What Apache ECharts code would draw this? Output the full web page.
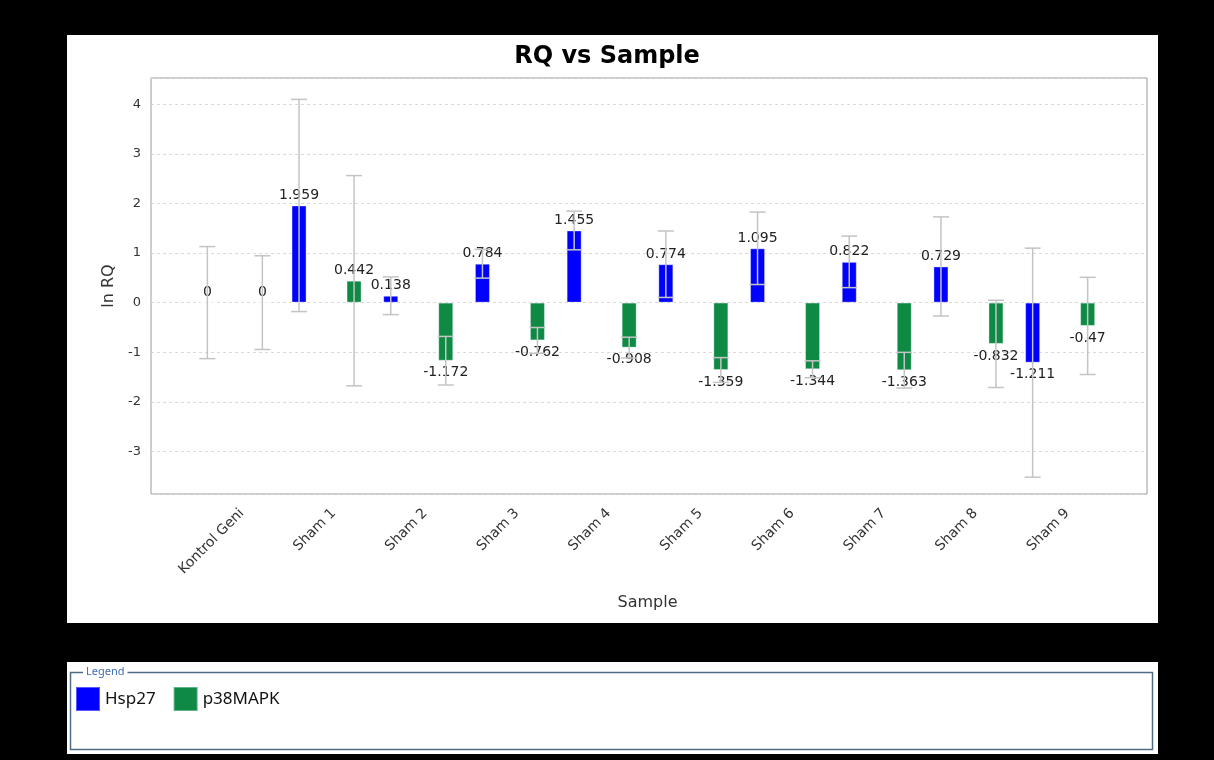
<!DOCTYPE html>
<html>
<head>
<meta charset="utf-8">
<title>RQ vs Sample</title>
<script src="https://cdn.jsdelivr.net/npm/echarts@6/dist/echarts.min.js"></script>
<style>
  html, body { margin: 0; padding: 0; background: #000; }
  #chart { width: 1214px; height: 760px; }
</style>
</head>
<body>
<div id="chart"></div>
<script>
// Samples along the category axis
const categories = ['Kontrol Geni', 'Sham 1', 'Sham 2', 'Sham 3', 'Sham 4',
                    'Sham 5', 'Sham 6', 'Sham 7', 'Sham 8', 'Sham 9'];

// ln RQ per sample for each gene
const hsp27   = [0, 1.959, 0.138, 0.784, 1.455, 0.774, 1.095, 0.822, 0.729, -1.211];
const p38mapk = [0, 0.442, -1.172, -0.762, -0.908, -1.359, -1.344, -1.363, -0.832, -0.47];

// Half-length of the error bar for each sample
const hsp27Err   = [1.13, 2.14, 0.38, 0.29, 0.39, 0.67, 0.73, 0.52, 1.00, 2.31];
const p38mapkErr = [0.945, 2.12, 0.49, 0.26, 0.21, 0.25, 0.17, 0.36, 0.88, 0.98];

// Value axis range
const yMin = -3.86;
const yMax = 4.53;

const BLUE = '#0000ff';
const GREEN = '#0f8a45';
const BAR_W = 15;
const BAR_GAP = 40;                     // px between the two bars of a sample
const HALF_STEP = (BAR_W + BAR_GAP) / 2; // centre offset of each bar from the band centre

const chart = echarts.init(document.getElementById('chart'), null, { renderer: 'canvas' });

function barData(values) {
  return values.map(v => ({
    value: v,
    label: { position: v < 0 ? 'bottom' : 'top', distance: v < 0 ? 5 : 3 }
  }));
}

function errorSeries(name, values, errs, offset) {
  return {
    type: 'custom',
    name: name,
    xAxisIndex: 1,
    yAxisIndex: 1,
    z: 3,
    silent: true,
    encode: { x: 0, y: 1 },
    data: values.map((v, i) => [i, v, errs[i]]),
    renderItem: function (params, api) {
      const i = api.value(0), v = api.value(1), e = api.value(2);
      const hi = api.coord([i, v + e]);
      const lo = api.coord([i, v - e]);
      const x = hi[0] + offset;
      const cap = 8;
      const style = { stroke: '#c4c4c4', lineWidth: 1.5 };
      return {
        type: 'group',
        children: [
          { type: 'line', shape: { x1: x, y1: hi[1], x2: x, y2: lo[1] }, style: style },
          { type: 'line', shape: { x1: x - cap, y1: hi[1], x2: x + cap, y2: hi[1] }, style: style },
          { type: 'line', shape: { x1: x - cap, y1: lo[1], x2: x + cap, y2: lo[1] }, style: style }
        ]
      };
    }
  };
}

const labelStyle = {
  show: true,
  fontFamily: 'DejaVu Sans',
  fontSize: 14,
  color: '#222',
  formatter: p => String(p.value)
};

const option = {
  backgroundColor: '#000',
  animation: false,
  textStyle: { fontFamily: 'DejaVu Sans' },
  title: {
    text: 'RQ vs Sample',
    left: 'center',
    top: 45,
    padding: [0, 0, 0, 21],
    textStyle: { fontFamily: 'DejaVu Sans', fontWeight: 'bold', fontSize: 24, color: '#000' }
  },
  legend: {
    data: ['Hsp27', 'p38MAPK'],
    left: 70,
    top: 681,
    icon: 'rect',
    itemWidth: 24,
    itemHeight: 24,
    itemGap: 17,
    textStyle: { fontFamily: 'Noto Sans', fontSize: 17, color: '#111' }
  },
  graphic: [
    // chart panel
    { type: 'rect', z: -10, shape: { x: 67, y: 35, width: 1091, height: 588 }, style: { fill: '#fff' } },
    // legend panel
    { type: 'rect', z: -10, shape: { x: 67, y: 662, width: 1091, height: 92 }, style: { fill: '#fff' } },
    { type: 'rect', z: -9, shape: { x: 70.5, y: 672.5, width: 1082, height: 77 },
      style: { fill: 'none', stroke: '#4f6b86', lineWidth: 1.5 } },
    { type: 'text', z: -8, x: 83, y: 672,
      style: { text: 'Legend', fill: '#3d6db5', font: '11px "Noto Sans"',
               verticalAlign: 'middle', textVerticalAlign: 'middle',
               backgroundColor: '#fff', padding: [0, 3] } }
  ],
  grid: [
    // full plot frame with value gridlines
    { left: 151, top: 78, width: 996, height: 416, show: true,
      backgroundColor: '#fff', borderColor: '#9a9a9a', borderWidth: 1 },
    // sample bands, inset from the frame edges
    { left: 189, top: 78, width: 917, height: 416 }
  ],
  xAxis: [
    { gridIndex: 0, type: 'value', min: 0, max: 1, show: false },
    {
      gridIndex: 1,
      type: 'category',
      data: categories,
      name: 'Sample',
      nameLocation: 'middle',
      nameGap: 101,
      nameTextStyle: { fontFamily: 'DejaVu Sans', fontSize: 16, color: '#333' },
      axisLine: { show: false },
      axisTick: { show: false },
      splitLine: { show: false },
      axisLabel: {
        interval: 0,
        rotate: 45,
        margin: 10,
        fontFamily: 'DejaVu Sans',
        fontSize: 14,
        color: '#333',
        formatter: v => '{s|' + v + '}',
        rich: {
          s: { fontFamily: 'DejaVu Sans', fontSize: 14, color: '#333', padding: [20, 0, 0, 0] }
        }
      }
    }
  ],
  yAxis: [
    {
      gridIndex: 0,
      type: 'value',
      min: yMin,
      max: yMax,
      splitNumber: 8,
      name: 'ln RQ',
      nameLocation: 'middle',
      nameGap: 33,
      nameTextStyle: { fontFamily: 'DejaVu Sans', fontSize: 16, color: '#333' },
      axisLine: { show: false },
      axisTick: { show: false },
      axisLabel: {
        margin: 10,
        fontFamily: 'DejaVu Sans',
        fontSize: 13,
        color: '#333',
        formatter: v => (Math.abs(v - Math.round(v)) < 1e-9 ? String(Math.round(v)) : '')
      },
      splitLine: { show: true, lineStyle: { color: '#dadada', type: [3, 3], width: 1 } }
    },
    { gridIndex: 1, type: 'value', min: yMin, max: yMax, show: false }
  ],
  series: [
    {
      name: 'Hsp27',
      type: 'bar',
      xAxisIndex: 1,
      yAxisIndex: 1,
      barWidth: BAR_W,
      barGap: (BAR_GAP / BAR_W * 100) + '%',
      itemStyle: { color: BLUE, borderColor: 'rgba(255,255,255,0.35)', borderWidth: 1 },
      label: labelStyle,
      data: barData(hsp27)
    },
    {
      name: 'p38MAPK',
      type: 'bar',
      xAxisIndex: 1,
      yAxisIndex: 1,
      barWidth: BAR_W,
      barGap: (BAR_GAP / BAR_W * 100) + '%',
      itemStyle: { color: GREEN, borderColor: 'rgba(255,255,255,0.35)', borderWidth: 1 },
      label: labelStyle,
      data: barData(p38mapk)
    },
    errorSeries('Hsp27 error', hsp27, hsp27Err, -HALF_STEP),
    errorSeries('p38MAPK error', p38mapk, p38mapkErr, HALF_STEP)
  ]
};

chart.setOption(option);
</script>
</body>
</html>
